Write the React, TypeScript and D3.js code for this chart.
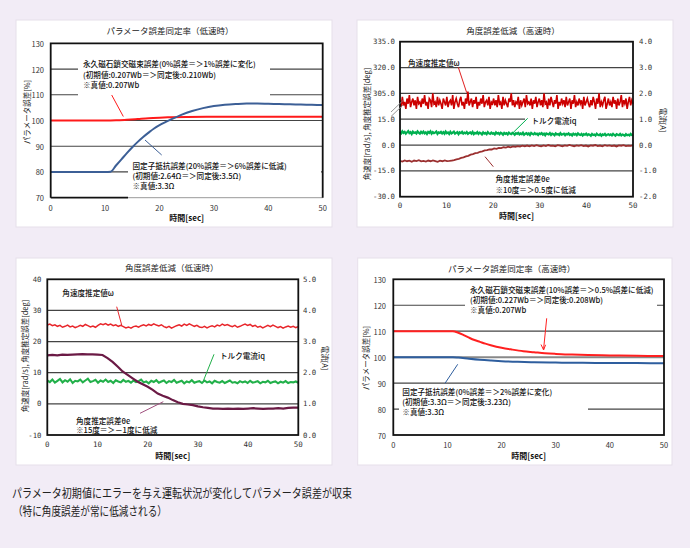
import React from "react";
import * as d3 from "d3";

const FONT = "'Noto Sans CJK JP', 'Noto Sans', sans-serif";
const MONO = "'DejaVu Sans Mono', 'Noto Sans CJK JP', monospace";
const BG = "#F2ECF6";

// ---------- shared ----------
const xTicks = [0, 10, 20, 30, 40, 50];

// ---------- Panel 1 : パラメータ誤差同定率（低速時） ----------
const p1Ticks = [70, 80, 90, 100, 110, 120, 130];
const p1RsTime = [0, 5, 10, 11, 12, 13, 14, 15, 16, 17, 18, 19, 20, 21, 22, 24, 26, 28, 30, 32, 34, 36, 38, 40, 42, 44, 46, 48, 50];
const p1Rs = [80, 80, 80, 80.1, 82.5, 84.9, 87.3, 89.6, 91.7, 93.6, 95.3, 96.9, 98.2, 99.3, 100.3, 102.2, 103.7, 104.8, 105.6, 106.1, 106.4, 106.6, 106.6, 106.5, 106.4, 106.3, 106.2, 106.1, 106.0];
const p1FluxTime = [0, 5, 10, 11, 12, 14, 16, 18, 20, 22, 25, 30, 35, 40, 45, 50];
const p1Flux = [100, 100, 100, 100, 100.05, 100.3, 100.6, 100.9, 101.1, 101.25, 101.4, 101.5, 101.5, 101.5, 101.5, 101.5];
const p1NoteA = ["永久磁石鎖交磁束誤差(0%誤差＝＞1%誤差に変化)", "(初期値:0.207Wb＝＞同定後:0.210Wb)", "※真値:0.207Wb"];
const p1NoteB = ["固定子抵抗誤差(20%誤差＝＞6%誤差に低減)", "(初期値:2.64Ω＝＞同定後:3.5Ω)", "※真値:3.3Ω"];

// ---------- Panel 2 : 角度誤差低減（高速時） ----------
const p2UpperTicks = [335, 320, 305];
const p2LowerTicks = [15, 0, -15, -30];
const p2RightTicks = [4, 3, 2, 1, 0, -1, -2];
const p2Omega = [
  301, 297, 303, 298, 300, 296, 302, 299, 304, 297, 300, 302, 298, 301, 296, 303, 299, 300, 297, 302,
  299, 304, 298, 300, 296, 302, 301, 297, 305, 299, 300, 297, 303, 298, 301, 299, 296, 302, 300, 298,
  303, 297, 300, 301, 298, 304, 296, 300, 302, 299, 297, 301, 303, 298, 300, 296, 302, 299, 306, 298,
  300, 302, 297, 301, 299, 303, 296, 300, 298, 302, 299, 304, 297, 300, 301, 298, 303, 296, 300, 299,
  302, 298, 301, 297, 304, 299, 300, 296, 303, 298, 301, 299, 297, 302, 300, 305, 298, 301, 297, 300,
  299, 303, 296, 301, 298, 300, 302, 297, 304, 299, 300, 298, 302, 296, 301, 299, 303, 297, 300, 302,
  298, 301, 297, 305, 299, 300, 296, 302, 298, 303, 300, 297, 301, 299, 304, 296, 300, 298, 302, 299,
  301, 297, 303, 298, 300, 302, 296, 301, 299, 304, 297, 300, 298, 302, 299, 301, 296, 303, 298, 300,
  302, 299, 297, 301, 298, 303, 300, 296, 302, 299, 305, 297, 300, 298, 301, 303, 296, 299, 302, 298,
  300, 297, 303, 299, 301, 296, 302, 298, 300, 304, 297, 301, 299, 302, 296, 300, 303, 298, 301, 299,
];
const p2Iq = [
  0.5, 0.45, 0.53, 0.47, 0.51, 0.44, 0.49, 0.54, 0.46, 0.5, 0.43, 0.52, 0.47, 0.49, 0.45, 0.53, 0.48, 0.44, 0.51, 0.46,
  0.52, 0.45, 0.49, 0.43, 0.51, 0.47, 0.53, 0.44, 0.5, 0.46, 0.48, 0.52, 0.43, 0.49, 0.47, 0.51, 0.45, 0.5, 0.44, 0.52,
  0.46, 0.49, 0.43, 0.51, 0.45, 0.48, 0.52, 0.44, 0.47, 0.5, 0.42, 0.49, 0.46, 0.51, 0.44, 0.48, 0.45, 0.5, 0.43, 0.47,
  0.49, 0.44, 0.51, 0.42, 0.47, 0.45, 0.5, 0.43, 0.48, 0.46, 0.41, 0.49, 0.44, 0.47, 0.42, 0.5, 0.45, 0.43, 0.48, 0.44,
  0.46, 0.41, 0.49, 0.44, 0.47, 0.42, 0.48, 0.45, 0.4, 0.47, 0.43, 0.46, 0.41, 0.48, 0.44, 0.42, 0.47, 0.45, 0.4, 0.46,
  0.43, 0.47, 0.41, 0.45, 0.42, 0.48, 0.4, 0.44, 0.46, 0.41, 0.45, 0.39, 0.47, 0.43, 0.41, 0.46, 0.42, 0.44, 0.39, 0.45,
  0.42, 0.46, 0.4, 0.44, 0.38, 0.45, 0.43, 0.41, 0.46, 0.39, 0.44, 0.42, 0.38, 0.45, 0.41, 0.43, 0.39, 0.46, 0.4, 0.42,
  0.44, 0.38, 0.43, 0.41, 0.45, 0.39, 0.42, 0.37, 0.44, 0.4, 0.43, 0.38, 0.45, 0.41, 0.39, 0.43, 0.37, 0.42, 0.4, 0.44,
  0.38, 0.42, 0.4, 0.36, 0.43, 0.39, 0.41, 0.37, 0.44, 0.4, 0.38, 0.42, 0.36, 0.41, 0.39, 0.43, 0.37, 0.4, 0.42, 0.38,
  0.41, 0.37, 0.43, 0.39, 0.36, 0.42, 0.4, 0.38, 0.43, 0.37, 0.41, 0.39, 0.36, 0.42, 0.38, 0.4, 0.37, 0.43, 0.39, 0.4,
];
const p2Theta = [
  -9.2, -9.6, -8.9, -9.4, -9.1, -9.7, -9.0, -9.3, -8.8, -9.5, -9.2, -9.6, -9.0, -9.4, -8.9, -9.3, -9.7, -9.1, -9.4, -8.9, -9.3, -9.2,
  -9.0, -8.8, -8.3, -8.0, -7.5, -7.2, -6.6, -6.3, -5.6, -5.3, -4.7, -4.5, -3.9, -3.7, -3.1, -3.0, -2.5, -2.6, -2.0, -2.2, -1.7, -1.8,
  -1.3, -1.5, -1.0, -1.3, -0.8, -1.1, -0.6, -0.9, -0.4, -0.8, -0.3,
  -0.7, -0.2, -0.6, -0.1, -0.5, -0.8, -0.2, -0.6, 0.0, -0.5, -0.3, -0.7, -0.1, -0.4, -0.8, -0.2, -0.5, 0.1, -0.4, -0.7,
  -0.2, -0.5, -0.1, -0.6, -0.3, -0.8, -0.2, -0.4, 0.0, -0.6, -0.3, -0.7, -0.1, -0.5, -0.2, -0.6, -0.3, -0.8, -0.2, -0.4,
  -0.1, -0.6, -0.3, -0.5, -0.2,
];

// ---------- Panel 3 : 角度誤差低減（低速時） ----------
const p3LeftTicks = [40, 30, 20, 10, 0, -10];
const p3RightTicks = [5, 4, 3, 2, 1, 0];
const p3Omega = [
  25.3, 25.6, 25.1, 25.4, 24.9, 25.2, 24.6, 24.9, 25.3, 24.7, 25.0, 24.5, 24.8, 25.2, 24.9, 25.5, 25.1, 24.7, 25.0, 24.6,
  25.2, 25.7, 25.4, 25.8, 25.3, 25.6, 25.1, 25.4, 24.9, 25.2, 24.8, 24.4, 24.7, 24.3, 24.8, 25.0, 24.6, 25.1, 25.4, 25.0,
  25.5, 25.2, 25.7, 25.3, 25.0, 25.4, 24.8, 24.5, 24.9, 24.3, 24.7, 25.1, 25.4, 25.0, 25.6, 25.2, 25.7, 25.3, 24.9, 25.2,
  24.7, 24.5, 24.9, 24.4, 24.8, 25.1, 24.7, 25.3, 25.0, 25.6, 25.2, 25.5, 25.1, 24.8, 25.2, 24.6, 24.9, 25.3, 25.6, 25.2,
  25.5, 24.9, 25.2, 24.6, 24.9, 24.4, 24.8, 25.2, 24.8, 25.3, 24.9, 24.5, 24.8, 24.3, 24.7, 25.0, 24.6, 24.9, 24.5, 24.8,
];
const p3Iq = [
  1.75, 1.7, 1.78, 1.68, 1.74, 1.8, 1.69, 1.76, 1.71, 1.79, 1.67, 1.74, 1.72, 1.78, 1.69, 1.75, 1.81, 1.7, 1.73, 1.77,
  1.68, 1.75, 1.71, 1.78, 1.7, 1.74, 1.67, 1.76, 1.72, 1.69, 1.77, 1.71, 1.74, 1.68, 1.75, 1.7, 1.73, 1.78, 1.69, 1.72,
  1.66, 1.74, 1.7, 1.76, 1.68, 1.72, 1.75, 1.67, 1.73, 1.7, 1.77, 1.68, 1.71, 1.74, 1.66, 1.72, 1.69, 1.76, 1.68, 1.71,
  1.73, 1.67, 1.75, 1.69, 1.72, 1.66, 1.74, 1.7, 1.68, 1.73, 1.67, 1.71, 1.75, 1.68, 1.7, 1.66, 1.73, 1.69, 1.72, 1.67,
  1.74, 1.68, 1.7, 1.73, 1.66, 1.71, 1.69, 1.74, 1.67, 1.7, 1.72, 1.66, 1.71, 1.68, 1.73, 1.67, 1.7, 1.69, 1.72, 1.68,
];
const p3Theta = [
  15.6, 15.7, 15.6, 15.8, 15.7, 15.8, 15.9, 16.0, 15.9, 15.9, 15.8, 15.7,
  14.7, 13.5, 12.0, 10.4, 9.3, 8.2, 7.1, 6.3, 5.5, 4.5, 3.3, 2.6, 2.0, 1.2, 0.5, 0.0, -0.2, -0.4, -0.8,
  -1.1, -1.3, -1.5, -1.5, -1.6, -1.5, -1.6, -1.5, -1.6, -1.5, -1.4, -1.5, -1.6, -1.5, -1.5, -1.4, -1.5, -1.3, -1.2, -1.2,
];

// ---------- Panel 4 : パラメータ誤差同定率（高速時） ----------
const p4Ticks = [70, 80, 90, 100, 110, 120, 130];
const p4FluxTime = [0, 5, 10, 11, 12, 13, 14, 15, 16, 17, 18, 20, 22, 24, 26, 28, 30, 33, 36, 40, 45, 50];
const p4Flux = [110, 110, 110, 110, 109.4, 108.5, 107.5, 106.6, 105.9, 105.2, 104.6, 103.6, 102.9, 102.3, 101.9, 101.5, 101.25, 101.0, 100.8, 100.65, 100.5, 100.45];
const p4RsTime = [0, 5, 10, 11, 12, 14, 16, 18, 20, 23, 26, 30, 35, 40, 45, 50];
const p4Rs = [100, 100, 100, 100, 99.85, 99.4, 99.0, 98.7, 98.45, 98.2, 98.05, 97.9, 97.8, 97.75, 97.7, 97.65];
const p4NoteA = ["永久磁石鎖交磁束誤差(10%誤差＝＞0.5%誤差に低減)", "(初期値:0.227Wb＝＞同定後:0.208Wb)", "※真値:0.207Wb"];
const p4NoteB = ["固定子抵抗誤差(0%誤差＝＞2%誤差に変化)", "(初期値:3.3Ω＝＞同定後:3.23Ω)", "※真値:3.3Ω"];

const caption1 = "パラメータ初期値にエラーを与え運転状況が変化してパラメータ誤差が収束";
const caption2 = "（特に角度誤差が常に低減される）";

type Pt = [number, number];
const zip = (t: number[], v: number[]): Pt[] => t.map((d, i) => [d, v[i]]);
const byIndex = (v: number[]): Pt[] => v.map((d, i) => [(i * 50) / (v.length - 1), d]);

function Card({ x, y, w, h }: any) {
  return <rect x={x} y={y} width={w} height={h} fill="#fff" stroke="#e6dfea" strokeWidth={1} />;
}

function Frame({ x0, x1, y0, y1 }: any) {
  return <rect x={x0} y={y0} width={x1 - x0} height={y1 - y0} fill="none" stroke="#111" strokeWidth={1.8} />;
}

function Lines({ lines, x, y, size = 7.6, weight = 500 }: any) {
  return (
    <g fontFamily={FONT} fontSize={size} fill="#111" fontWeight={weight}>
      {lines.map((s: string, i: number) => (
        <text key={i} x={x} y={y[i]} dominantBaseline="central">{s}</text>
      ))}
    </g>
  );
}

function XAxisLabels({ xs, y, titleY, mono }: any) {
  return (
    <g fontFamily={mono ? MONO : FONT} fontSize={7.5} fill="#333" textAnchor="middle">
      {xTicks.map((t) => (
        <text key={t} x={xs(t)} y={y} dominantBaseline="central">{t}</text>
      ))}
      <text x={(xs(0) + xs(50)) / 2} y={titleY} dominantBaseline="central" fontFamily={FONT} fontSize={8} fill="#111" fontWeight={600}>時間[sec]</text>
    </g>
  );
}

function VText({ x, y, text, rot = -90, size = 7.5 }: any) {
  return (
    <text transform={`translate(${x},${y}) rotate(${rot})`} textAnchor="middle" dominantBaseline="central" fontFamily={FONT} fontSize={size} fill="#222">{text}</text>
  );
}

function Panel1() {
  const P = { x0: 50.7, x1: 322.7, y0: 43.3, y1: 197.7 };
  const xs = d3.scaleLinear().domain([0, 50]).range([P.x0, P.x1]);
  const ys = d3.scaleLinear().domain([70, 130]).range([P.y1, P.y0]);
  const line = d3.line<Pt>().x((d) => xs(d[0])).y((d) => ys(d[1])).curve(d3.curveMonotoneX);
  return (
    <g>
      <Card x={16} y={20} w={316} h={207} />
      <text x={170} y={30} textAnchor="middle" dominantBaseline="central" fontFamily={FONT} fontSize={8.5} fill="#222">パラメータ誤差同定率（低速時）</text>
      {p1Ticks.slice(1, -1).map((t) => (
        <line key={t} x1={P.x0} x2={P.x1} y1={ys(t)} y2={ys(t)} stroke="#444" strokeWidth={1.2} />
      ))}
      <rect x={78} y={56} width={192} height={41} fill="#fff" />
      <rect x={128} y={158} width={193} height={38.5} fill="#fff" />
      <line x1={128} x2={P.x1} y1={P.y1} y2={P.y1} stroke="#999" strokeWidth={1} />
      <path d={line(zip(p1FluxTime, p1Flux)) || ""} fill="none" stroke="#FF1A1A" strokeWidth={2} />
      <path d={line(zip(p1RsTime, p1Rs)) || ""} fill="none" stroke="#3C5F96" strokeWidth={2} />
      <path d={`M${P.x0},${P.y1}V${P.y0}H${P.x1}V${P.y1}`} fill="none" stroke="#111" strokeWidth={1.8} />
      <line x1={P.x0} x2={128} y1={P.y1} y2={P.y1} stroke="#111" strokeWidth={1.8} />
      <g fontFamily={FONT} fontSize={7.5} fill="#333" textAnchor="end">
        {p1Ticks.map((t) => (
          <text key={t} x={44} y={ys(t)} dominantBaseline="central">{t}</text>
        ))}
      </g>
      <XAxisLabels xs={xs} y={207.7} titleY={217.3} />
      <VText x={26.5} y={112} text="パラメータ誤差[%]" />
      <Lines lines={p1NoteA} x={83} y={[63.3, 74, 84.5]} />
      <Lines lines={p1NoteB} x={132.5} y={[165, 175.3, 185.5]} />
      <line x1={111.7} y1={95} x2={123.3} y2={116.5} stroke="#FF1A1A" strokeWidth={1} />
      <line x1={161.7} y1={155} x2={145} y2={140} stroke="#3C5F96" strokeWidth={1} />
    </g>
  );
}

function Panel2() {
  const P = { x0: 400, x1: 633, y0: 41.7, y1: 196.7 };
  const step = (P.y1 - P.y0) / 6;
  const xs = d3.scaleLinear().domain([0, 50]).range([P.x0, P.x1]);
  const yUp = d3.scaleLinear().domain([305, 335]).range([P.y0 + 2 * step, P.y0]);
  const yLo = d3.scaleLinear().domain([-30, 15]).range([P.y1, P.y0 + 3 * step]);
  const yR = d3.scaleLinear().domain([-2, 4]).range([P.y1, P.y0]);
  const lUp = d3.line<Pt>().x((d) => xs(d[0])).y((d) => yUp(d[1]));
  const lLo = d3.line<Pt>().x((d) => xs(d[0])).y((d) => yLo(d[1]));
  const lR = d3.line<Pt>().x((d) => xs(d[0])).y((d) => yR(d[1]));
  const grid = [yUp(320), yUp(305), yLo(15), yLo(0), yLo(-15)];
  return (
    <g>
      <Card x={357} y={20} w={316} h={207} />
      <text x={513} y={30} textAnchor="middle" dominantBaseline="central" fontFamily={FONT} fontSize={8.5} fill="#222">角度誤差低減（高速時）</text>
      {grid.map((g, i) => (
        <line key={i} x1={P.x0} x2={P.x1} y1={g} y2={g} stroke="#444" strokeWidth={1.2} />
      ))}
      <rect x={525} y={114} width={73} height={11} fill="#fff" />
      <path d={lR(byIndex(p2Iq)) || ""} fill="none" stroke="#00B050" strokeWidth={2.2} />
      <path d={lLo(byIndex(p2Theta)) || ""} fill="none" stroke="#9B2F2F" strokeWidth={1.8} />
      <path d={lUp(byIndex(p2Omega)) || ""} fill="none" stroke="#CC0000" strokeWidth={1.6} />
      <Frame {...P} />
      <line x1={391} y1={112} x2={403} y2={100.5} stroke="#888" strokeWidth={0.9} />
      <line x1={391} y1={116.5} x2={403} y2={105} stroke="#888" strokeWidth={0.9} />
      <g fontFamily={MONO} fontSize={7.3} fill="#333" textAnchor="end">
        {p2UpperTicks.map((t) => (
          <text key={"u" + t} x={395} y={yUp(t)} dominantBaseline="central">{t.toFixed(1)}</text>
        ))}
        {p2LowerTicks.map((t) => (
          <text key={"l" + t} x={395} y={yLo(t)} dominantBaseline="central">{t.toFixed(1)}</text>
        ))}
      </g>
      <g fontFamily={MONO} fontSize={7.3} fill="#333" textAnchor="start">
        {p2RightTicks.map((t) => (
          <text key={t} x={639} y={yR(t)} dominantBaseline="central">{t.toFixed(1)}</text>
        ))}
      </g>
      <XAxisLabels xs={xs} y={205} titleY={215.7} mono />
      <VText x={366.5} y={124} text="角速度[rad/s], 角度推定誤差[deg]" />
      <VText x={663} y={120} text="電流[A]" rot={90} />
      <Lines lines={["角速度推定値ω"]} x={408} y={[62.3]} />
      <Lines lines={["トルク電流iq"]} x={531.5} y={[120.5]} />
      <Lines lines={["角度推定誤差θe", "※10度＝＞0.5度に低減"]} x={495.5} y={[178.3, 189.3]} />
      <line x1={458.3} y1={67.3} x2={466.7} y2={92.7} stroke="#E02020" strokeWidth={1} />
      <line x1={527.7} y1={118.3} x2={511.7} y2={134} stroke="#00B050" strokeWidth={1} />
      <line x1={493.3} y1={166.7} x2={485} y2={156.7} stroke="#9B2F2F" strokeWidth={1} />
    </g>
  );
}

function Panel3() {
  const P = { x0: 47.3, x1: 298.3, y0: 279.3, y1: 435 };
  const xs = d3.scaleLinear().domain([0, 50]).range([P.x0, P.x1]);
  const yL = d3.scaleLinear().domain([-10, 40]).range([P.y1, P.y0]);
  const yR = d3.scaleLinear().domain([0, 5]).range([P.y1, P.y0]);
  const lL = d3.line<Pt>().x((d) => xs(d[0])).y((d) => yL(d[1]));
  const lR = d3.line<Pt>().x((d) => xs(d[0])).y((d) => yR(d[1]));
  return (
    <g>
      <Card x={16} y={258} w={316} h={207} />
      <text x={171.7} y={267.3} textAnchor="middle" dominantBaseline="central" fontFamily={FONT} fontSize={8.5} fill="#222">角度誤差低減（低速時）</text>
      {p3LeftTicks.slice(1, -1).map((t) => (
        <line key={t} x1={P.x0} x2={P.x1} y1={yL(t)} y2={yL(t)} stroke="#444" strokeWidth={1.2} />
      ))}
      <path d={lR(byIndex(p3Iq)) || ""} fill="none" stroke="#22B04A" strokeWidth={2.1} />
      <path d={lL(byIndex(p3Omega)) || ""} fill="none" stroke="#E8262B" strokeWidth={1.5} />
      <path d={lL(byIndex(p3Theta)) || ""} fill="none" stroke="#6B1A45" strokeWidth={2.2} />
      <Frame {...P} />
      <g fontFamily={MONO} fontSize={7.3} fill="#333" textAnchor="end">
        {p3LeftTicks.map((t) => (
          <text key={t} x={41.5} y={yL(t)} dominantBaseline="central">{t}</text>
        ))}
      </g>
      <g fontFamily={MONO} fontSize={7.3} fill="#333" textAnchor="start">
        {p3RightTicks.map((t) => (
          <text key={t} x={303} y={yR(t)} dominantBaseline="central">{t.toFixed(1)}</text>
        ))}
      </g>
      <XAxisLabels xs={xs} y={444} titleY={455} mono />
      <VText x={24.5} y={356} text="角速度[rad/s], 角度推定誤差[deg]" />
      <VText x={325} y={358} text="電流[A]" rot={90} />
      <Lines lines={["角速度推定値ω"]} x={62.3} y={[292.7]} />
      <Lines lines={["トルク電流iq"]} x={220} y={[355]} />
      <Lines lines={["角度推定誤差θe", "※15度＝＞－1度に低減"]} x={76} y={[420, 429.8]} />
      <line x1={116.7} y1={306.7} x2={121.7} y2={325} stroke="#E8262B" strokeWidth={1} />
      <line x1={214} y1={354.3} x2={203.3} y2={381} stroke="#22B04A" strokeWidth={1} />
      <line x1={140} y1={413.3} x2={163.3} y2={401.7} stroke="#A0507E" strokeWidth={1} />
    </g>
  );
}

function Panel4() {
  const P = { x0: 393.3, x1: 664, y0: 279.3, y1: 435 };
  const xs = d3.scaleLinear().domain([0, 50]).range([P.x0, P.x1]);
  const ys = d3.scaleLinear().domain([70, 130]).range([P.y1, P.y0]);
  const line = d3.line<Pt>().x((d) => xs(d[0])).y((d) => ys(d[1])).curve(d3.curveMonotoneX);
  return (
    <g>
      <Card x={357.7} y={258} w={314.3} h={207} />
      <text x={511.7} y={268.3} textAnchor="middle" dominantBaseline="central" fontFamily={FONT} fontSize={8.5} fill="#222">パラメータ誤差同定率（高速時）</text>
      {p4Ticks.slice(1, -1).map((t) => (
        <line key={t} x1={P.x0} x2={P.x1} y1={ys(t)} y2={ys(t)} stroke={t === 100 ? "#888" : "#444"} strokeWidth={t === 100 ? 2 : 1.2} />
      ))}
      <rect x={465} y={283} width={192} height={32} fill="#fff" />
      <rect x={399} y={386} width={189} height={30} fill="#fff" />
      <path d={line(zip(p4RsTime, p4Rs)) || ""} fill="none" stroke="#2E5E9E" strokeWidth={2} />
      <path d={line(zip(p4FluxTime, p4Flux)) || ""} fill="none" stroke="#FF2020" strokeWidth={2} />
      <Frame {...P} />
      <g fontFamily={FONT} fontSize={7.5} fill="#333" textAnchor="end">
        {p4Ticks.map((t) => (
          <text key={t} x={386} y={ys(t)} dominantBaseline="central">{t}</text>
        ))}
      </g>
      <XAxisLabels xs={xs} y={444} titleY={455} />
      <VText x={365.7} y={358} text="パラメータ誤差[%]" />
      <Lines lines={p4NoteA} x={470} y={[289, 299.3, 309.5]} />
      <Lines lines={p4NoteB} x={402.3} y={[391, 401, 411]} />
      <line x1={546.7} y1={318.3} x2={543.6} y2={349} stroke="#FF2020" strokeWidth={1} />
      <path d="M541,344.5 L543.6,350 L545.6,344.8" fill="none" stroke="#FF2020" strokeWidth={1} />
      <line x1={445} y1={383.3} x2={457.7} y2={364.3} stroke="#2E5E9E" strokeWidth={1} />
    </g>
  );
}

export default function App() {
  return (
    <div style={{ position: "absolute", left: 0, top: 0 }}>
      <svg width={690} height={548} style={{ display: "block" }}>
        <rect x={0} y={0} width={690} height={548} fill={BG} />
        <Panel1 />
        <Panel2 />
        <Panel3 />
        <Panel4 />
        <g fontFamily={FONT} fontSize={12} fill="#222">
          <text x={12} y={492.5} dominantBaseline="central" textLength={340} lengthAdjust="spacingAndGlyphs">{caption1}</text>
          <text x={13} y={510} dominantBaseline="central" textLength={154} lengthAdjust="spacingAndGlyphs">{caption2}</text>
        </g>
      </svg>
    </div>
  );
}
